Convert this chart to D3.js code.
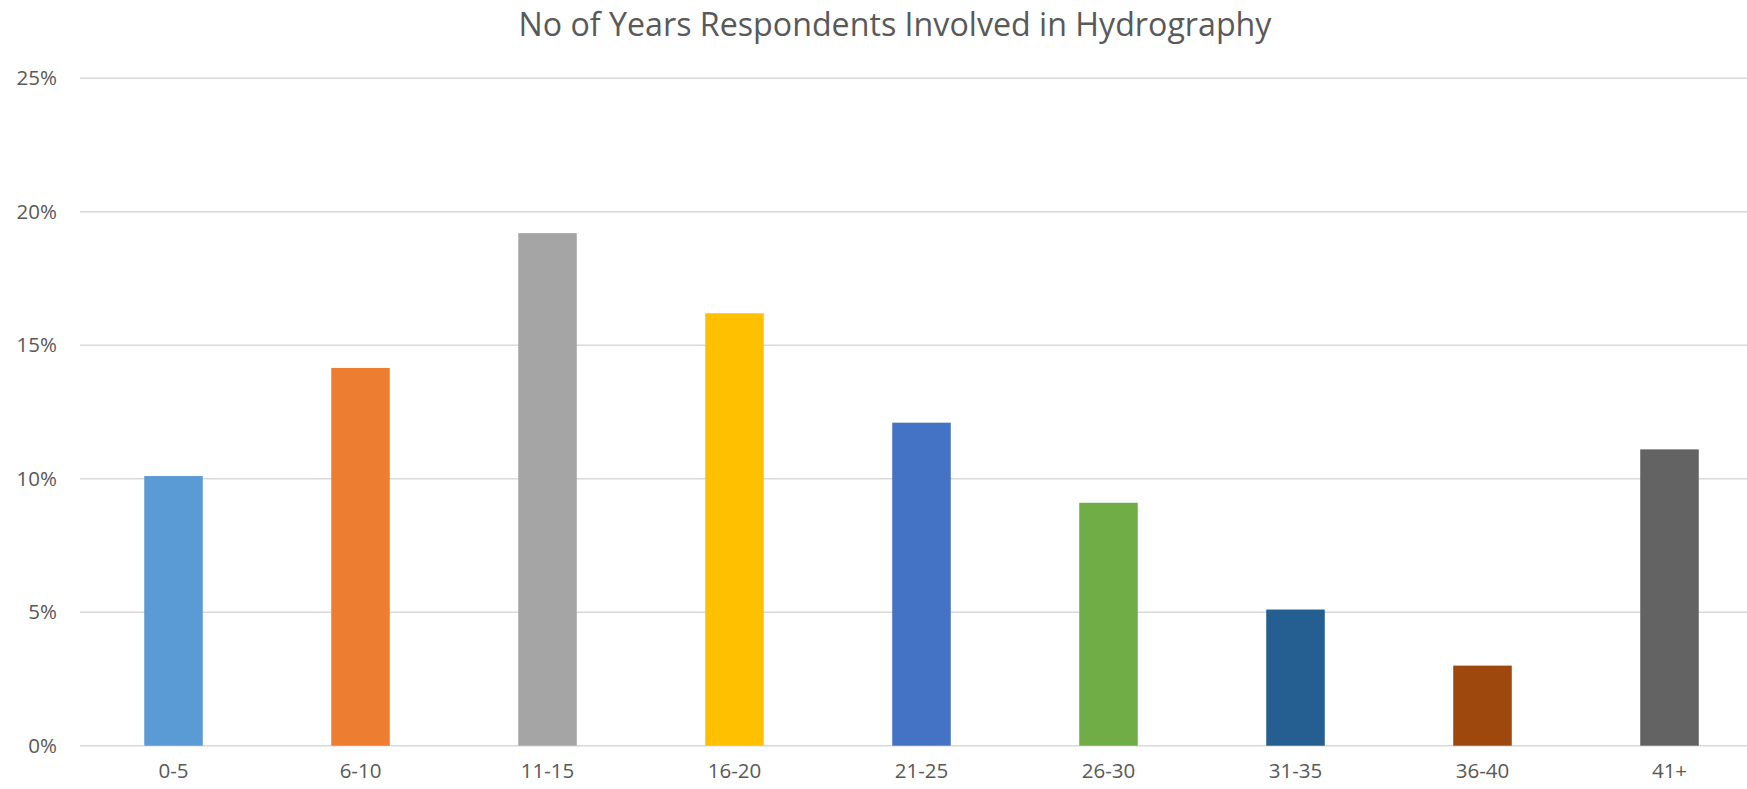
<!DOCTYPE html>
<html>
<head>
<meta charset="utf-8">
<script src="https://cdn.jsdelivr.net/npm/d3@7"></script>
<style>
  html, body { margin: 0; padding: 0; background: #ffffff; overflow: hidden; }
  svg { display: block; font-family: "Open Sans", "Noto Sans", sans-serif; }
</style>
</head>
<body>
<svg id="chart" width="1747" height="789"></svg>
<script>
// Share of respondents by years involved in hydrography (percent)
const categories = ["0-5", "6-10", "11-15", "16-20", "21-25", "26-30", "31-35", "36-40", "41+"];
const shares = [10.1, 14.15, 19.2, 16.2, 12.1, 9.1, 5.1, 3.0, 11.1];
const barColors = ["#5B9BD5", "#ED7D31", "#A5A5A5", "#FFC000", "#4472C4", "#70AD47", "#255E91", "#9E480E", "#636363"];
const yTicks = [0, 5, 10, 15, 20, 25];
const title = "No of Years Respondents Involved in Hydrography";

const svg = d3.select("#chart");
const plot = { left: 80, right: 1763, top: 78.3, bottom: 745.7 };

const x = d3.scaleBand()
  .domain(categories)
  .range([plot.left, plot.right])
  .paddingInner(0.687)
  .paddingOuter(0.3435);

const y = d3.scaleLinear()
  .domain([0, 25])
  .range([plot.bottom, plot.top]);

// Horizontal gridlines
svg.append("g")
  .selectAll("line")
  .data(yTicks)
  .join("line")
  .attr("x1", plot.left)
  .attr("x2", plot.right)
  .attr("y1", d => y(d))
  .attr("y2", d => y(d))
  .attr("stroke", "#d9d9d9")
  .attr("stroke-width", 1.4);

// Y axis labels
const yAxis = d3.axisLeft(y)
  .tickValues(yTicks)
  .tickFormat(d => d + "%")
  .tickSize(0)
  .tickPadding(0);

const gy = svg.append("g")
  .attr("transform", `translate(57,0)`)
  .call(yAxis);
gy.select(".domain").remove();
gy.selectAll("text")
  .attr("fill", "#595959")
  .attr("font-size", 20.5)
  .attr("font-family", "'Open Sans', sans-serif");

// Bars
svg.append("g")
  .selectAll("rect")
  .data(categories)
  .join("rect")
  .attr("x", d => x(d))
  .attr("width", x.bandwidth())
  .attr("y", (d, i) => y(shares[i]))
  .attr("height", (d, i) => y(0) - y(shares[i]))
  .attr("fill", (d, i) => barColors[i]);

// X axis labels
const xAxis = d3.axisBottom(x).tickSize(0).tickPadding(0);
const gx = svg.append("g")
  .attr("transform", `translate(0,${plot.bottom})`)
  .call(xAxis);
gx.select(".domain").remove();
gx.selectAll("text")
  .attr("fill", "#595959")
  .attr("font-size", 20.5)
  .attr("font-family", "'Open Sans', sans-serif")
  .attr("dy", null)
  .attr("y", 32);

// Chart title
svg.append("text")
  .attr("x", 895)
  .attr("y", 36)
  .attr("text-anchor", "middle")
  .attr("fill", "#595959")
  .attr("font-size", 32.2)
  .attr("font-family", "'Open Sans', sans-serif")
  .text(title);
</script>
</body>
</html>
